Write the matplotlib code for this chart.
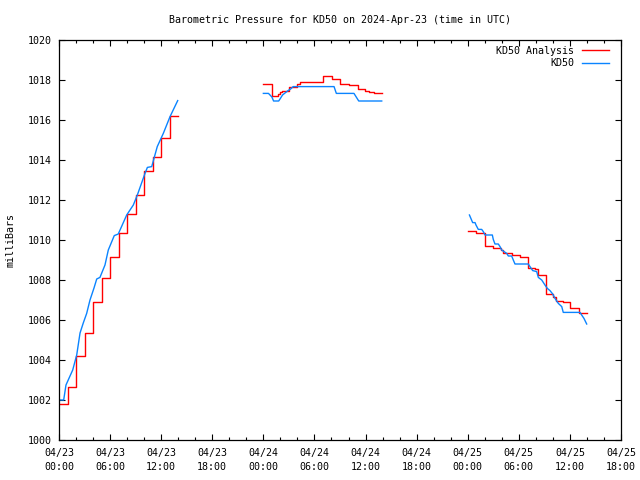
import numpy as np
import matplotlib
matplotlib.use("Agg")
import matplotlib.pyplot as plt

# ---- data (hours since 2024-04-23 00:00 UTC) ----
analysis_t1 = [0, 1, 2, 3, 4, 5, 6, 7, 8, 9, 10, 11, 12, 13, 13.95]
analysis_p1 = [1001.8, 1002.65, 1004.2, 1005.33, 1006.9, 1008.08, 1009.13, 1010.33,
               1011.28, 1012.23, 1013.45, 1014.13, 1015.08, 1016.2, 1016.2]
analysis_t2 = [24.0, 25.0, 25.75, 25.95, 26.2, 27.0, 28.0, 28.25, 29.15, 30.0, 31.05,
               32.05, 33.05, 34.1, 35.1, 35.9, 36.4, 37.0, 37.9]
analysis_p2 = [1017.78, 1017.2, 1017.3, 1017.42, 1017.45, 1017.67, 1017.78, 1017.88,
               1017.92, 1017.88, 1018.18, 1018.03, 1017.78, 1017.73, 1017.53, 1017.47,
               1017.38, 1017.33, 1017.33]
analysis_t3 = [48.0, 49.0, 50.05, 51.0, 51.9, 52.2, 53.15, 54.1, 55.05, 55.9, 56.2, 57.15,
               58.05, 58.4, 59.2, 60.05, 61.1, 62.0]
analysis_p3 = [1010.43, 1010.37, 1009.7, 1009.62, 1009.5, 1009.33, 1009.25, 1009.15,
               1008.62, 1008.53, 1008.25, 1007.28, 1007.13, 1006.95, 1006.9, 1006.62,
               1006.33, 1006.33]

obs_t1 = [0.0, 0.55, 0.82, 1.61, 2.08, 2.47, 2.85, 3.25, 3.64, 4.11, 4.43, 4.81, 5.40,
          5.79, 6.49, 6.96, 7.95, 8.73, 9.2, 10.1, 10.38, 10.89, 11.54, 12.25, 13.04, 13.94]
obs_p1 = [1002.0, 1002.0, 1002.75, 1003.5, 1004.25, 1005.35, 1005.85, 1006.33, 1007.0,
          1007.6, 1008.05, 1008.13, 1008.75, 1009.5, 1010.22, 1010.3, 1011.25, 1011.75,
          1012.25, 1013.33, 1013.63, 1013.67, 1014.67, 1015.33, 1016.17, 1016.97]
obs_t2 = [24.0, 24.6, 25.0, 25.2, 25.8, 26.0, 26.25, 26.6, 26.9, 27.2, 27.5, 32.3,
          32.57, 34.64, 35.2, 37.9]
obs_p2 = [1017.33, 1017.33, 1017.15, 1016.95, 1016.95, 1017.08, 1017.25, 1017.37,
          1017.47, 1017.55, 1017.67, 1017.67, 1017.33, 1017.33, 1016.95, 1016.95]
obs_t3 = [48.2, 48.58, 48.86, 48.97, 49.24, 49.64, 49.83, 50.03, 50.89, 51.0, 51.2,
          51.59, 51.79, 51.99, 52.58, 52.77, 53.16, 53.35, 53.55, 55.11, 55.31, 55.63,
          56.1, 56.29, 56.69, 57.07, 57.35, 57.66, 57.98, 58.25, 58.64, 59.04, 59.22,
          61.19, 61.38, 61.65, 61.97]
obs_p3 = [1011.25, 1010.87, 1010.87, 1010.75, 1010.53, 1010.53, 1010.42, 1010.25,
          1010.25, 1010.03, 1009.8, 1009.8, 1009.67, 1009.5, 1009.33, 1009.2, 1009.2,
          1009.0, 1008.8, 1008.8, 1008.67, 1008.47, 1008.42, 1008.13, 1008.0, 1007.75,
          1007.58, 1007.47, 1007.3, 1007.08, 1006.83, 1006.67, 1006.38, 1006.38, 1006.25,
          1006.08, 1005.8]

xtick_hours = [0, 6, 12, 18, 24, 30, 36, 42, 48, 54, 60, 66]
xtick_labels = ["04/23\n00:00", "04/23\n06:00", "04/23\n12:00", "04/23\n18:00",
                "04/24\n00:00", "04/24\n06:00", "04/24\n12:00", "04/24\n18:00",
                "04/25\n00:00", "04/25\n06:00", "04/25\n12:00", "04/25\n18:00"]
yticks = list(range(1000, 1021, 2))

title = "Barometric Pressure for KD50 on 2024-Apr-23 (time in UTC)"
red = "#ff0000"
blue = "#0a84ff"


def join(*segs):
    t, p = [], []
    for ts, ps in segs:
        t += list(ts) + [np.nan]
        p += list(ps) + [np.nan]
    return np.array(t, float), np.array(p, float)


plt.rcParams['font.family'] = ['DejaVu Sans Mono']
plt.rcParams['font.size'] = 7.2

fig = plt.figure(figsize=(6.4, 4.8), dpi=100)
ax = fig.add_axes([59 / 640, 40 / 480, 562 / 640, 400 / 480])

at, ap = join((analysis_t1, analysis_p1), (analysis_t2, analysis_p2), (analysis_t3, analysis_p3))
ot, op = join((obs_t1, obs_p1), (obs_t2, obs_p2), (obs_t3, obs_p3))

ax.plot(at, ap, color=red, lw=1.0, drawstyle='steps-post', label="KD50 Analysis")
ax.plot(ot, op, color=blue, lw=1.0, label="KD50")

ax.set_xlim(0, 66)
ax.set_ylim(1000, 1020)
ax.set_xticks(xtick_hours)
ax.set_xticklabels(xtick_labels, linespacing=1.45)
ax.set_xticks(np.arange(0, 67, 2), minor=True)
ax.set_yticks(yticks)
ax.tick_params(which='both', direction='in', top=True, right=True, width=0.8)
ax.tick_params(which='major', length=4.3)
ax.tick_params(which='minor', length=2.2)
ax.tick_params(axis='x', which='major', pad=6)
ax.tick_params(axis='y', which='major', pad=5)
for s in ax.spines.values():
    s.set_linewidth(0.9)

ax.set_ylabel("milliBars", labelpad=9)
fig.text(340 / 640, 1 - 20 / 480, title, ha='center', va='center')

leg = ax.legend(loc='upper right', bbox_to_anchor=(1 - 2 / 562, 1 + 4 / 400),
                frameon=False, markerfirst=False, handlelength=2.7,
                handletextpad=0.8, borderaxespad=0.6, labelspacing=0.25)
for txt in leg.get_texts():
    txt.set_ha('right')

fig.savefig("out.png", dpi=100)
